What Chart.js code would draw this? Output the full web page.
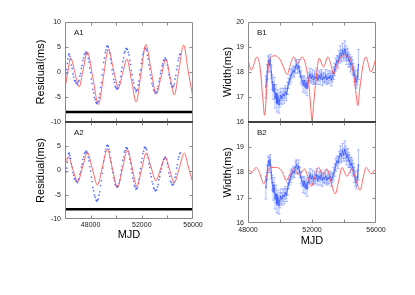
<!DOCTYPE html>
<html>
<head>
<meta charset="utf-8">
<script src="https://cdn.jsdelivr.net/npm/chart.js@4.4.0/dist/chart.umd.min.js"></script>
<style>
body { margin: 0; background: #fff; }
#wrap { position: relative; width: 415px; height: 295px; }
#wrap canvas { position: absolute; left: 0; top: 0; }
</style>
</head>
<body>
<div id="wrap">
<canvas id="a1" width="415" height="295"></canvas>
<canvas id="a2" width="415" height="295"></canvas>
<canvas id="b1" width="415" height="295"></canvas>
<canvas id="b2" width="415" height="295"></canvas>
</div>
<script>
// timing residuals (blue dots)
var obsMjd = [46080,46130,46180,46230,46280,46330,46380,46440,46500,46560,46620,46680,46740,46800,46860,46920,46980,47040,
  47100,47160,47220,47280,47340,47400,47460,47520,47580,47640,47700,47760,47820,47880,47940,48000,48060,48120,48180,48240,
  48300,48360,48420,48480,48540,48600,48660,48720,48780,48840,48900,48960,49020,49080,49140,49200,49260,49320,49380,49440,
  49500,49560,49620,49680,49740,49800,49860,49920,49980,50040,50100,50160,50220,50280,50340,50400,50460,50520,50580,50640,
  50700,50760,50820,50880,50940,51000,51060,51120,51180,51240,51300,51360,51420,51480,51540,51600,51660,51720,51780,51840,
  51900,51960,52020,52080,52140,52200,52260,52320,52380,52440,52500,52560,52620,52680,52740,52800,52860,52920,52980,53040,
  53100,53160,53220,53280,53340,53400,53460,53520,53580,53640,53700,53760,53820,53880,53940,54000,54060,54120,54180,54240,
  54300,54360,54420,54480,54540,54600,54660,54720,54780,54840,54900,54960,55020];
var obsRes = [-0.3,0.5,1.7,2.6,3.4,3.6,3.1,2.5,1.4,0.7,-0.4,-1.0,-1.7,-1.8,-2.2,-2.3,-2.5,-2.0,
  -1.7,-0.8,-0.3,0.7,1.3,2.3,2.8,3.5,3.7,4.0,3.8,3.6,2.7,2.0,0.8,-0.1,-1.4,-2.3,-3.5,-4.2,
  -5.1,-5.5,-6.1,-6.3,-6.1,-5.9,-5.1,-4.4,-3.1,-2.1,-0.6,0.5,1.9,2.8,3.9,4.4,5.1,5.2,5.0,4.4,
  3.8,2.6,1.7,0.4,-0.4,-1.5,-2.1,-2.9,-3.1,-3.4,-3.3,-3.2,-2.6,-2.0,-0.9,0.1,0.9,2.1,2.8,3.8,
  4.1,4.7,4.6,4.5,3.9,3.4,2.3,1.5,0.3,-0.5,-1.6,-2.2,-3.1,-3.4,-3.9,-3.7,-3.5,-2.6,-1.8,-0.5,
  0.4,1.7,2.5,3.5,4.0,4.7,4.8,4.6,4.3,3.3,2.6,1.4,0.6,-0.6,-1.3,-2.3,-2.8,-3.6,-3.8,-4.2,
  -4.1,-4.0,-3.4,-2.9,-1.9,-1.3,-0.3,0.3,1.2,1.6,2.3,2.4,2.8,2.5,2.3,1.4,0.7,-0.5,-1.2,-2.2,
  -2.5,-3.0,-2.9,-2.8,-2.4,-1.4,-0.7,0.5,1.2,2.3,2.8,3.5,3.6];

// model curves (red) for A1 and A2
var modelA1Mjd = [46000,46220,46440,46770,47096,47420,47746,48180,48608,49000,49391,49780,50174,50500,50830,51200,51560,51940,
  52320,52720,53126,53500,53884,54210,54535,54900,55265,55630,56000];
var modelA1Res = [-3.2,0.0,2.8,-0.1,-3.0,0.5,4.0,-1.2,-6.5,-1.0,4.5,0.6,-3.2,-0.3,2.6,-1.7,-6.0,-0.2,
  5.5,0.5,-4.4,-1.0,2.5,-1.0,-4.6,0.4,5.4,0.1,-5.2];
var modelA2Mjd = [46000,46260,46620,46990,47370,47746,48140,48530,48920,49310,49700,50095,50490,50880,51250,51613,51980,
  52340,52720,53100,53460,53830,54180,54535,54930,55320,55660,56000];
var modelA2Res = [1.3,2.8,0.2,-2.3,0.7,3.7,0.3,-3.0,0.7,4.4,0.4,-3.5,0.4,4.3,0.5,-3.3,0.2,
  3.6,0.7,-2.1,0.3,2.7,0.1,-2.5,0.5,3.6,0.5,-2.6];

// pulse widths with errors (blue)
var widthMjd = [49120,49200,49270,49330,49390,49450,49510,49570,49630,49690,49750,49810,49870,49930,49990,50050,50120,50190,
  50260,50330,50400,50470,50540,50610,50680,50750,50820,50890,50960,51030,51100,51170,51240,51310,51380,51450,51510,51570,
  51630,51690,51750,51810,51880,51950,52020,52090,52160,52230,52300,52370,52440,52510,52580,52650,52720,52790,52860,52930,
  53000,53070,53140,53210,53280,53350,53420,53490,53560,53630,53700,53770,53840,53910,53980,54050,54110,54170,54230,54290,
  54350,54410,54470,54530,54590,54650,54710,54770,54840,54900];
var widthObs = [17.4,18.0,18.45,18.3,18.5,18.0,17.6,17.25,17.5,16.95,17.15,16.75,17.0,16.7,16.9,17.05,16.95,17.1,
  17.05,17.2,17.1,17.35,17.55,17.7,17.85,17.95,18.05,18.0,18.2,18.3,18.15,18.25,18.0,17.8,17.65,17.5,17.65,17.4,
  17.55,17.35,17.6,17.8,17.9,17.75,17.85,17.7,17.8,17.75,17.9,17.7,17.85,17.75,17.9,17.7,17.8,17.75,17.85,17.7,
  17.8,17.75,17.85,17.7,17.8,17.95,18.1,18.3,18.45,18.4,18.6,18.75,18.65,18.85,18.7,18.9,18.75,18.6,18.7,18.5,
  18.45,18.3,18.35,18.2,18.1,17.9,17.75,17.6,17.8,18.3];
var widthErr = [0.45,0.3,0.2,0.3,0.2,0.25,0.3,0.35,0.3,0.4,0.35,0.35,0.3,0.35,0.3,0.3,0.25,0.25,
  0.3,0.25,0.25,0.25,0.2,0.2,0.25,0.2,0.2,0.2,0.25,0.2,0.2,0.25,0.2,0.25,0.2,0.3,0.2,0.25,
  0.2,0.3,0.2,0.2,0.25,0.2,0.25,0.2,0.25,0.2,0.25,0.2,0.2,0.25,0.2,0.25,0.2,0.2,0.25,0.2,
  0.25,0.2,0.2,0.25,0.2,0.25,0.25,0.25,0.2,0.25,0.25,0.3,0.25,0.3,0.25,0.35,0.3,0.3,0.25,0.3,
  0.25,0.3,0.25,0.3,0.25,0.3,0.3,0.25,0.3,0.6];

// model curves (red) for B1 and B2
var modelB1Mjd = [48000,48200,48560,48750,48920,49040,49160,49270,49400,49700,50000,50220,50440,50650,50850,51120,51380,51600,
  51820,51920,52000,52100,52250,52450,52720,52990,53180,53350,53580,53820,54100,54380,54600,54760,54860,54980,55200,55370,55680,56000];
var modelB1W = [18.5,18.07,18.6,18.2,17.0,16.27,17.2,18.2,18.55,18.65,18.5,18.2,17.9,18.3,18.6,18.35,18.6,18.3,
  17.4,16.6,16.05,16.7,17.7,18.55,18.2,18.6,18.3,17.9,18.3,18.6,18.65,18.55,17.9,17.1,16.65,17.3,18.3,18.6,18.0,18.55];
var modelB2Mjd = [48000,48250,48500,48750,48980,49200,49390,49700,50000,50200,50390,50600,50850,51200,51540,51750,51950,52180,
  52410,52660,52930,53200,53450,53680,53870,54180,54490,54750,55010,55200,55380,55675,56000];
var modelB2W = [18.14,18.0,18.2,17.95,17.55,17.95,18.2,18.2,18.15,17.95,17.68,17.9,18.15,17.9,18.14,17.8,17.45,17.85,
  18.2,17.92,18.14,17.6,17.15,17.7,18.2,17.85,18.14,17.7,17.3,17.8,18.2,17.95,18.15];

var baseLevel = -8;
var xTicksA = [48000, 50000, 52000, 54000];
var xTicksB = [50000, 52000, 54000];
var xLabels = [48000, 52000, 56000];
var yTicksA = [-5, 0, 5];
var yTicksB = [17, 18, 19];

var FONT = "'Liberation Sans', Arial, Helvetica, sans-serif";

function pts(xs, ys) {
  var out = [];
  for (var i = 0; i < xs.length; i++) out.push({x: xs[i], y: ys[i]});
  return out;
}

var framePlugin = {
  id: 'frame',
  afterDraw: function(chart, args, o) {
    var ctx = chart.ctx, a = chart.chartArea, x = chart.scales.x, y = chart.scales.y;
    var L = Math.round(a.left) + 0.5, R = Math.round(a.right) - 0.5;
    var T = Math.round(a.top) + 0.5, B = Math.round(a.bottom) - 0.5;
    ctx.save();
    ctx.strokeStyle = '#8a8a8a';
    ctx.lineWidth = 1;
    ctx.beginPath();
    o.xTicks.forEach(function(v) {
      var p = Math.round(x.getPixelForValue(v)) + 0.5;
      ctx.moveTo(p, T); ctx.lineTo(p, T + 3);
      ctx.moveTo(p, B); ctx.lineTo(p, B - 3);
    });
    o.yTicks.forEach(function(v) {
      var p = Math.round(y.getPixelForValue(v)) + 0.5;
      ctx.moveTo(L, p); ctx.lineTo(L + 3, p);
      ctx.moveTo(R, p); ctx.lineTo(R - 3, p);
    });
    ctx.moveTo(L, T); ctx.lineTo(L, B);
    ctx.moveTo(R, T); ctx.lineTo(R, B);
    if (o.top) { ctx.moveTo(L, T); ctx.lineTo(R, T); }
    if (!o.darkBottom) { ctx.moveTo(L, B); ctx.lineTo(R, B); }
    ctx.stroke();
    if (o.darkBottom) {
      ctx.strokeStyle = '#000';
      ctx.lineWidth = 1.3;
      ctx.beginPath();
      ctx.moveTo(a.left, a.bottom); ctx.lineTo(a.right, a.bottom);
      ctx.stroke();
    }
    ctx.fillStyle = '#111';
    ctx.font = '8px ' + FONT;
    ctx.textBaseline = 'middle';
    ctx.fillText(o.label, a.left + 9, a.top + 11);
    ctx.restore();
  }
};

var errPlugin = {
  id: 'errbars',
  beforeDatasetsDraw: function(chart, args, o) {
    if (!o.on) return;
    var ctx = chart.ctx, a = chart.chartArea, x = chart.scales.x, y = chart.scales.y;
    ctx.save();
    ctx.beginPath();
    ctx.rect(a.left, a.top, a.width, a.height);
    ctx.clip();
    ctx.strokeStyle = 'rgba(100,130,255,0.5)';
    ctx.lineWidth = 1;
    ctx.beginPath();
    for (var i = 0; i < widthMjd.length; i++) {
      var px = x.getPixelForValue(widthMjd[i]);
      var y1 = y.getPixelForValue(widthObs[i] - widthErr[i]);
      var y2 = y.getPixelForValue(widthObs[i] + widthErr[i]);
      ctx.moveTo(px, y1); ctx.lineTo(px, y2);
      ctx.moveTo(px - 1.5, y1); ctx.lineTo(px + 1.5, y1);
      ctx.moveTo(px - 1.5, y2); ctx.lineTo(px + 1.5, y2);
    }
    ctx.stroke();
    ctx.restore();
  }
};

function panel(id, o) {
  return new Chart(document.getElementById(id), {
    type: 'scatter',
    data: { datasets: o.datasets },
    options: {
      responsive: false,
      animation: false,
      devicePixelRatio: 1,
      layout: { padding: o.pad },
      plugins: {
        legend: { display: false },
        tooltip: { enabled: false },
        frame: o.frame,
        errbars: { on: !!o.err }
      },
      scales: {
        x: {
          type: 'linear', min: o.xMin, max: 56000, display: o.showX,
          grid: { display: false, drawTicks: false }, border: { display: false },
          ticks: {
            stepSize: 2000, autoSkip: false, maxRotation: 0, padding: o.xPad || 2,
            color: '#222', font: { family: FONT, size: 7 },
            callback: function(v) { return xLabels.indexOf(v) >= 0 ? String(v) : ''; }
          },
          title: { display: true, text: 'MJD', color: '#000', font: { family: FONT, size: 11 },
            padding: { top: 0, bottom: o.xTitlePad || 0 } },
          afterFit: function(s) { if (o.showX) s.height = o.xH; }
        },
        y: {
          min: o.yMin, max: o.yMax,
          grid: { display: false, drawTicks: false }, border: { display: false },
          ticks: {
            stepSize: o.yStep, padding: 4, color: '#222', font: { family: FONT, size: 7 },
            callback: function(v) { return v === o.yHide ? '' : String(v); }
          },
          title: { display: true, text: o.yTitle, color: '#000', font: { family: FONT, size: 11 },
            padding: { top: o.yTitlePad, bottom: 0 } },
          afterFit: function(s) { s.width = o.yW; }
        }
      }
    },
    plugins: [framePlugin, errPlugin]
  });
}

function residualSets(mMjd, mRes) {
  return [
    { data: pts(mMjd, mRes), showLine: true, borderColor: 'rgba(255,95,95,0.95)', borderWidth: 1,
      pointRadius: 0, cubicInterpolationMode: 'monotone' },
    { data: pts(obsMjd, obsRes), pointStyle: 'rect', pointRadius: 1, borderWidth: 0,
      backgroundColor: 'rgba(45,75,255,0.85)' },
    { data: pts([46000, 56000], [baseLevel, baseLevel]), showLine: true, borderColor: '#000',
      borderWidth: 2.5, pointRadius: 0 }
  ];
}

function widthSets(mMjd, mW) {
  return [
    { data: pts(mMjd, mW), showLine: true, borderColor: 'rgba(255,95,95,0.95)', borderWidth: 1,
      pointRadius: 0, cubicInterpolationMode: 'monotone' },
    { data: pts(widthMjd, widthObs), showLine: true, borderColor: 'rgba(55,85,255,0.85)', borderWidth: 0.9,
      pointRadius: 0.8, backgroundColor: 'rgba(55,85,255,0.85)', pointBorderWidth: 0 }
  ];
}

panel('a1', {
  datasets: residualSets(modelA1Mjd, modelA1Res),
  pad: { left: 0, top: 22, right: 222, bottom: 173 },
  xMin: 46000, showX: false, yMin: -10, yMax: 10, yStep: 5, yHide: null,
  yTitle: 'Residual(ms)', yW: 65, yTitlePad: 34.4,
  frame: { xTicks: xTicksA, yTicks: yTicksA, top: true, darkBottom: true, label: 'A1' }
});
panel('a2', {
  datasets: residualSets(modelA2Mjd, modelA2Res),
  pad: { left: 0, top: 122, right: 222, bottom: 0 },
  xMin: 46000, showX: true, xH: 76, xPad: 2, xTitlePad: 53.4,
  yMin: -10, yMax: 10, yStep: 5, yHide: 10,
  yTitle: 'Residual(ms)', yW: 65, yTitlePad: 34.4,
  frame: { xTicks: xTicksA, yTicks: yTicksA, top: false, darkBottom: false, label: 'A2' }
});
panel('b1', {
  datasets: widthSets(modelB1Mjd, modelB1W), err: true,
  pad: { left: 208, top: 22, right: 39, bottom: 173 },
  xMin: 48000, showX: false, yMin: 16, yMax: 20, yStep: 1, yHide: null,
  yTitle: 'Width(ms)', yW: 40, yTitlePad: 13.4,
  frame: { xTicks: xTicksB, yTicks: yTicksB, top: true, darkBottom: true, label: 'B1' }
});
panel('b2', {
  datasets: widthSets(modelB2Mjd, modelB2W), err: true,
  pad: { left: 208, top: 122, right: 39, bottom: 0 },
  xMin: 48000, showX: true, xH: 72, xPad: 3, xTitlePad: 47.4,
  yMin: 16, yMax: 20, yStep: 1, yHide: 20,
  yTitle: 'Width(ms)', yW: 40, yTitlePad: 13.4,
  frame: { xTicks: xTicksB, yTicks: yTicksB, top: false, darkBottom: false, label: 'B2' }
});
</script>
</body>
</html>
